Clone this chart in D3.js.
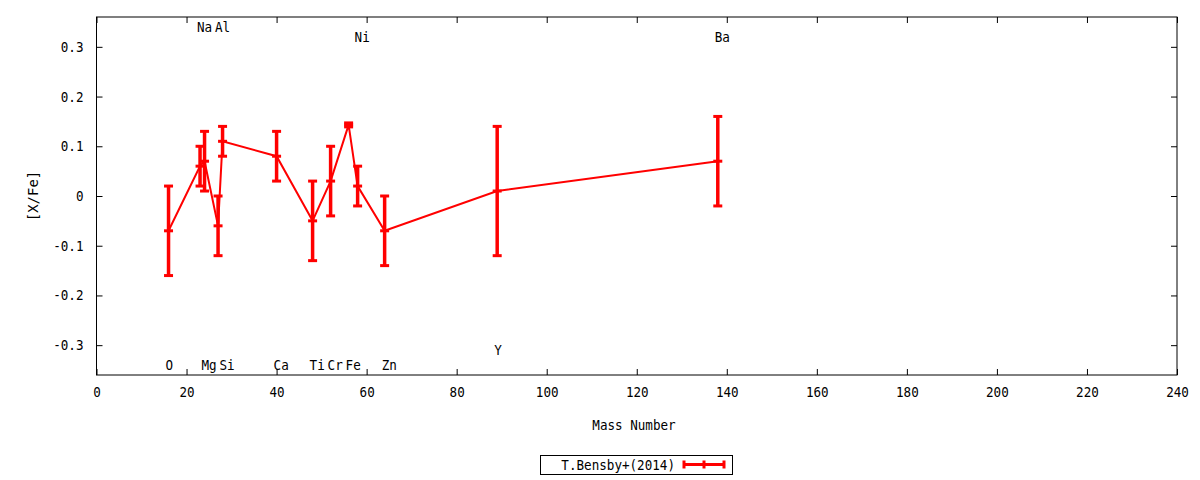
<!DOCTYPE html>
<html>
<head>
<meta charset="utf-8">
<script src="https://cdn.jsdelivr.net/npm/d3@7"></script>
<style>
  html, body { margin: 0; padding: 0; background: #fff; }
  svg text { font-family: "DejaVu Sans Mono", monospace; font-size: 14px; fill: #000; }
</style>
</head>
<body>
<svg id="chart" width="1200" height="480"></svg>
<script>
// ---- data ----
const elements   = ["O", "Na", "Mg", "Al", "Si", "Ca", "Ti", "Cr", "Fe", "Ni", "Zn", "Y", "Ba"];
const massNumber = [16, 23, 24, 27, 28, 40, 48, 52, 56, 58, 64, 89, 138];
const xFe        = [-0.07, 0.06, 0.07, -0.06, 0.11, 0.08, -0.05, 0.03, 0.143, 0.02, -0.07, 0.01, 0.07];
const xFeErr     = [0.09, 0.04, 0.06, 0.06, 0.03, 0.05, 0.08, 0.07, 0.004, 0.04, 0.07, 0.13, 0.09];
const labelLevel = [-0.34, 0.34, -0.34, 0.34, -0.34, -0.34, -0.34, -0.34, -0.34, 0.32, -0.34, -0.31, 0.32];
const xTicks     = [0, 20, 40, 60, 80, 100, 120, 140, 160, 180, 200, 220, 240];
const yTicks     = [-0.3, -0.2, -0.1, 0, 0.1, 0.2, 0.3];
const seriesName = "T.Bensby+(2014)";
const xTitle = "Mass Number";
const yTitle = "[X/Fe]";

// ---- layout ----
const svg = d3.select("#chart");
const L = 96.5, R = 1177, T = 17, B = 375;
const red = "#ff0000";

const x = d3.scaleLinear().domain([0, 240]).range([L, R]);
const y = d3.scaleLinear().domain([-0.36, 0.36]).range([B, T]);

const fmtY = d => d === 0 ? "0" : d3.format(".1f")(d).replace("−", "-");

// axes (gnuplot style: inward ticks, mirrored)
const gx = svg.append("g").attr("transform", `translate(0,${B})`)
  .call(d3.axisBottom(x).tickValues(xTicks).tickSize(-6).tickPadding(12).tickFormat(d3.format("d")));
const gxTop = svg.append("g").attr("transform", `translate(0,${T})`)
  .call(d3.axisTop(x).tickValues(xTicks).tickSize(-6).tickFormat(""));
const gy = svg.append("g").attr("transform", `translate(${L},0)`)
  .call(d3.axisLeft(y).tickValues(yTicks).tickSize(-6).tickPadding(13).tickFormat(fmtY));
const gyR = svg.append("g").attr("transform", `translate(${R},0)`)
  .call(d3.axisRight(y).tickValues(yTicks).tickSize(-6).tickFormat(""));

[gx, gxTop, gy, gyR].forEach(g => {
  g.select(".domain").remove();
  g.selectAll(".tick line").attr("stroke", "#000").attr("stroke-width", 1);
  g.selectAll("text").attr("font-family", null).attr("font-size", null);
});
gx.selectAll("text").attr("dy", "0.72em");

// frame
svg.append("rect")
  .attr("x", L).attr("y", T).attr("width", R - L).attr("height", B - T)
  .attr("fill", "none").attr("stroke", "#000").attr("stroke-width", 1);

// titles
svg.append("text")
  .attr("transform", `translate(33,${y(0)}) rotate(-90)`)
  .attr("text-anchor", "middle").attr("dominant-baseline", "central")
  .text(yTitle);
svg.append("text")
  .attr("x", 634).attr("y", 425)
  .attr("text-anchor", "middle").attr("dominant-baseline", "central")
  .attr("class", "cond")
  .text(xTitle);

// data
const data = elements.map((e, i) => ({
  el: e, m: massNumber[i], v: xFe[i], err: xFeErr[i], ly: labelLevel[i]
}));

const plot = svg.append("g");
const line = d3.line().x(d => x(d.m)).y(d => y(d.v));
plot.append("path").datum(data)
  .attr("d", line).attr("fill", "none").attr("stroke", red).attr("stroke-width", 2);

const cap = 4.5;
const eb = plot.selectAll("g.eb").data(data).join("g").attr("class", "eb")
  .attr("stroke", red).attr("stroke-width", 3).attr("fill", "none");
eb.append("line")
  .attr("x1", d => x(d.m)).attr("x2", d => x(d.m))
  .attr("y1", d => y(d.v - d.err)).attr("y2", d => y(d.v + d.err))
  .attr("stroke-width", 3.5);
eb.append("line")
  .attr("x1", d => x(d.m) - cap).attr("x2", d => x(d.m) + cap)
  .attr("y1", d => y(d.v + d.err)).attr("y2", d => y(d.v + d.err));
eb.append("line")
  .attr("x1", d => x(d.m) - cap).attr("x2", d => x(d.m) + cap)
  .attr("y1", d => y(d.v - d.err)).attr("y2", d => y(d.v - d.err));
eb.append("line")
  .attr("x1", d => x(d.m) - cap).attr("x2", d => x(d.m) + cap)
  .attr("y1", d => y(d.v)).attr("y2", d => y(d.v));

// element labels
svg.append("g").selectAll("text").data(data).join("text")
  .attr("class", "cond")
  .attr("x", d => x(d.m) - 3).attr("y", d => y(d.ly))
  .attr("dominant-baseline", "central")
  .text(d => d.el);

// legend
const lg = svg.append("g");
lg.append("rect").attr("x", 540.5).attr("y", 455.5).attr("width", 192).attr("height", 19)
  .attr("fill", "#fff").attr("stroke", "#000").attr("stroke-width", 1);
lg.append("text").attr("x", 675).attr("y", 465)
  .attr("text-anchor", "end").attr("dominant-baseline", "central")
  .attr("class", "cond")
  .text(seriesName);
const ly0 = 464.5, lx1 = 684, lx2 = 724;
lg.append("line").attr("x1", lx1).attr("x2", lx2).attr("y1", ly0).attr("y2", ly0)
  .attr("stroke", red).attr("stroke-width", 3);
[lx1, (lx1 + lx2) / 2, lx2].forEach(xx => {
  lg.append("line").attr("x1", xx).attr("x2", xx).attr("y1", ly0 - 4).attr("y2", ly0 + 4)
    .attr("stroke", red).attr("stroke-width", 3);
});

// narrow the glyphs horizontally (condensed look of the original font)
const sx = 0.9;
gx.selectAll("text").attr("transform", `scale(${sx},1)`);
gy.selectAll("text").each(function () {
  const tx = +d3.select(this).attr("x") || 0;
  d3.select(this).attr("transform", `translate(${tx},0) scale(${sx},1) translate(${-tx},0)`);
});
svg.selectAll("text.cond").each(function () {
  const tx = +d3.select(this).attr("x") || 0;
  d3.select(this).attr("transform", `translate(${tx},0) scale(${sx},1) translate(${-tx},0)`);
});
</script>
</body>
</html>
